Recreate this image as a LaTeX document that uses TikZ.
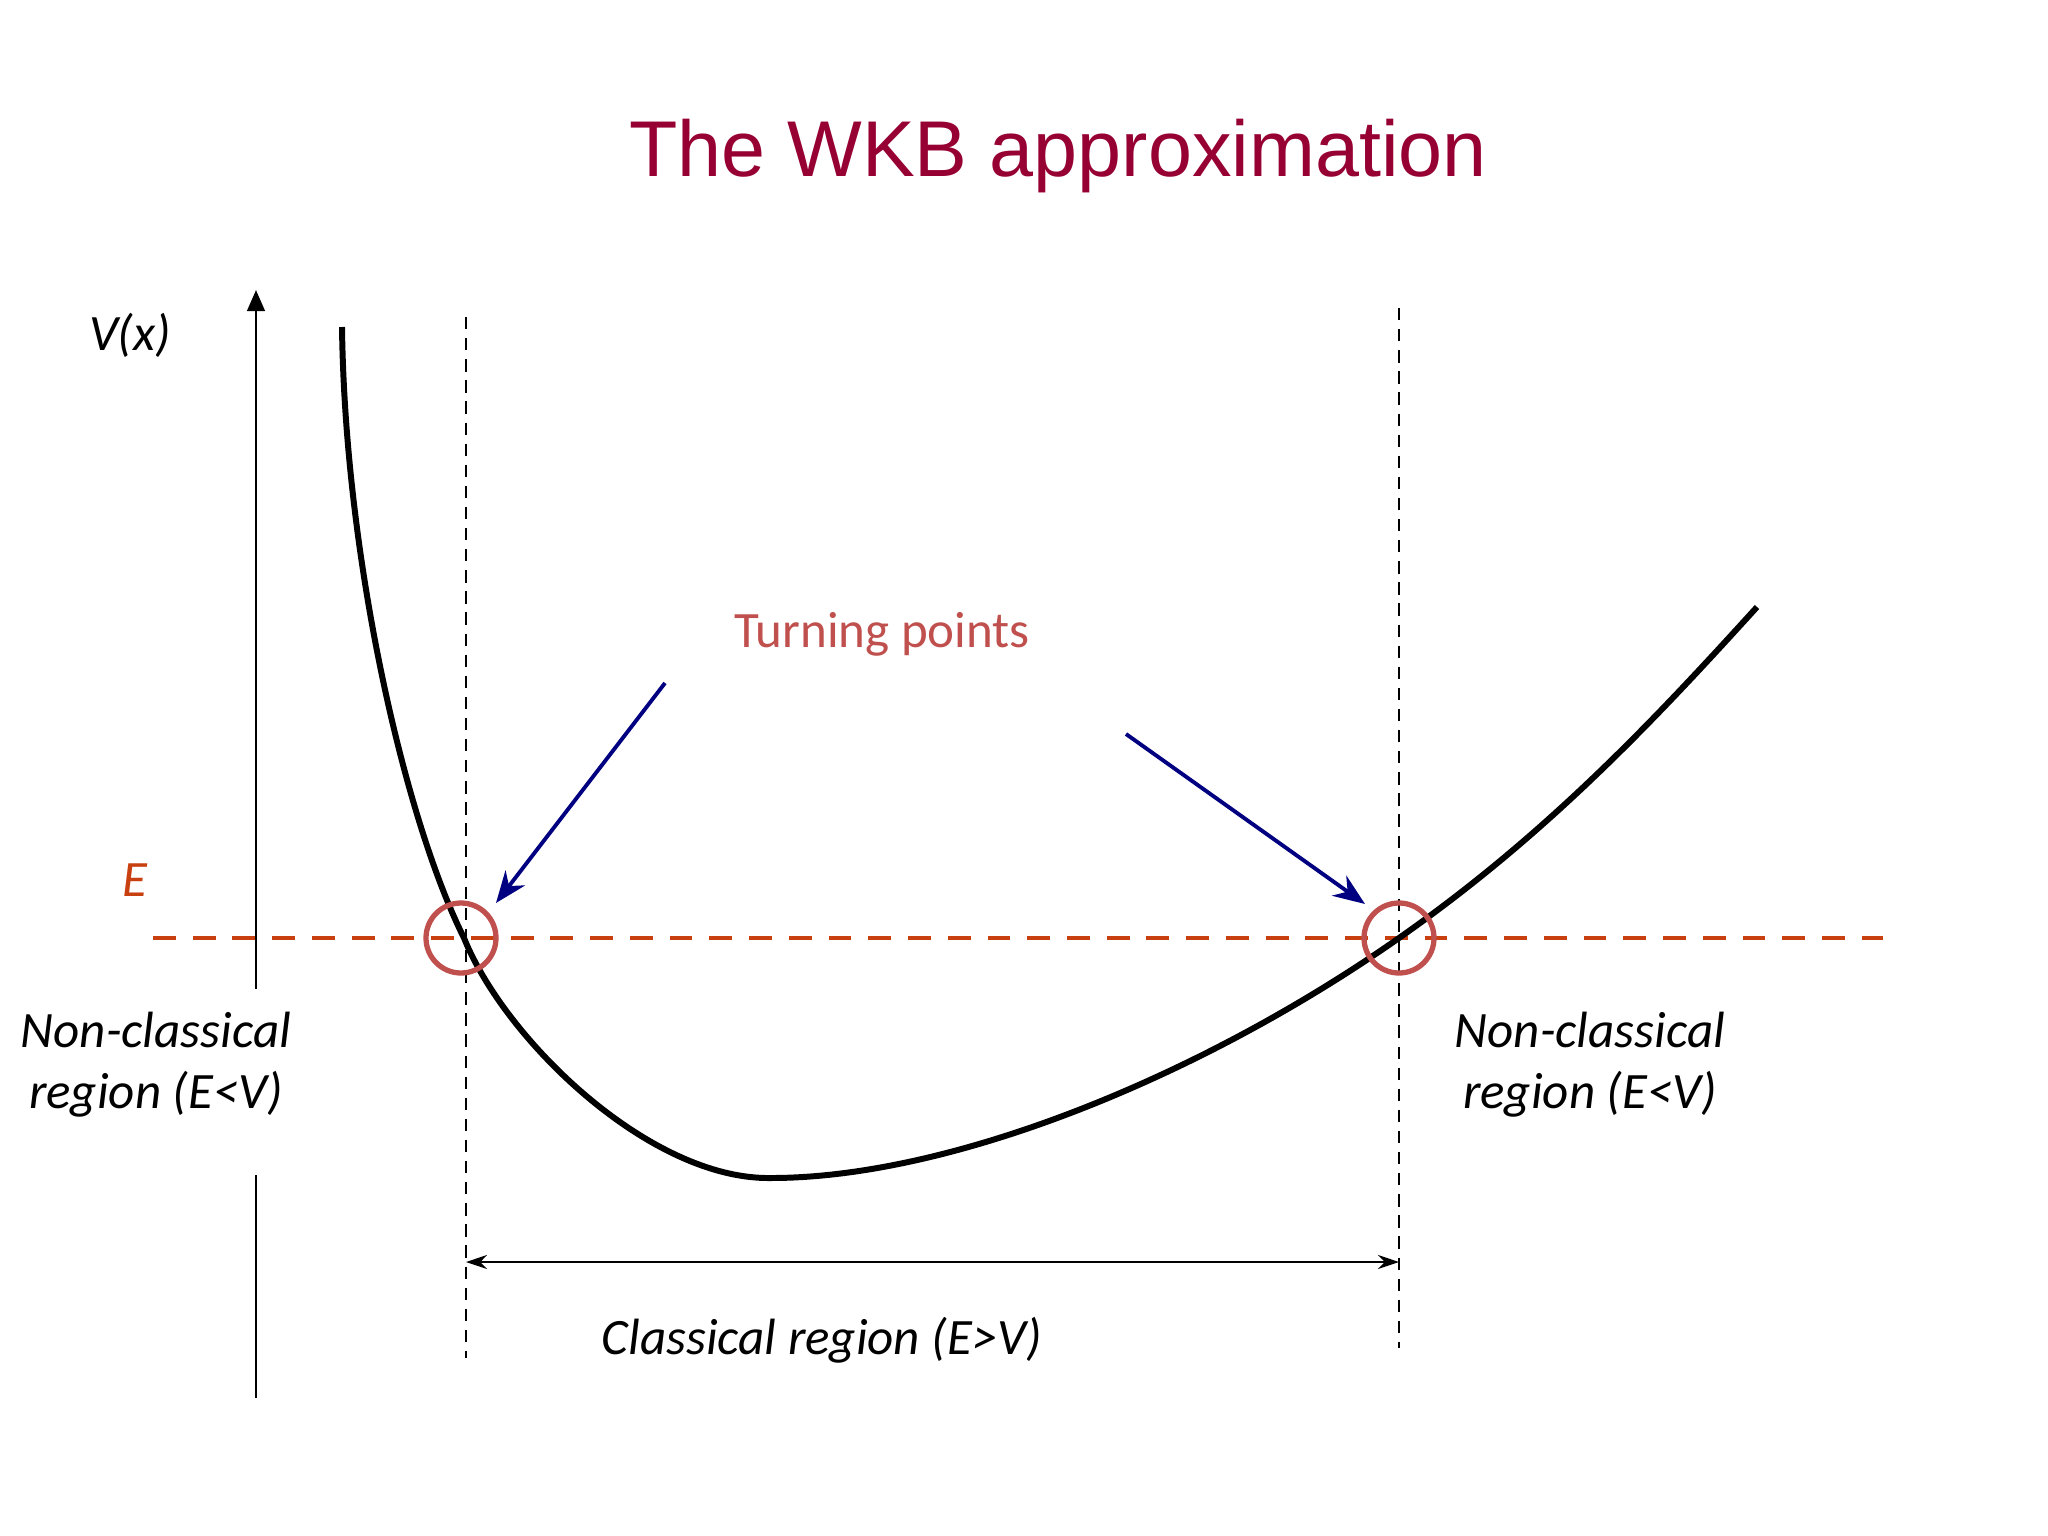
\documentclass[tikz,border=0pt]{standalone}
\usepackage{fontspec}
\setmainfont{Carlito}
\newfontfamily\titlefont{Liberation Sans}
\usetikzlibrary{arrows.meta}
\definecolor{titlered}{RGB}{150,0,50}
\definecolor{energy}{RGB}{200,64,16}
\definecolor{tpred}{RGB}{192,80,77}
\definecolor{navyblue}{RGB}{0,0,128}
\tikzset{
  lbl/.style={font=\fontsize{14.5}{17.4}\selectfont\itshape, inner sep=0pt, align=center},
  axisline/.style={line width=0.8pt, black},
  potential/.style={line width=1.7pt, black},
  energyline/.style={line width=1.4pt, energy, dash pattern=on 6.5pt off 4.8pt},
  turnline/.style={line width=0.6pt, black, dash pattern=on 3.5pt off 2.5pt},
  tpcircle/.style={circle, draw=tpred, line width=1.5pt, minimum size=70*0.01cm, inner sep=0pt},
  pointer/.style={line width=1.1pt, navyblue, -{Stealth[length=9pt, width=7pt]}},
  span/.style={line width=0.8pt, {Stealth[length=6pt,width=4pt]}-{Stealth[length=6pt,width=4pt]}}
}
\begin{document}
\begin{tikzpicture}[x=0.01cm, y=-0.01cm]
\useasboundingbox (0,0) rectangle (2048,1536);
% title
\node[font=\titlefont\fontsize{22.5}{27}\selectfont, text=titlered, anchor=base, inner sep=0pt] (title) at (1058,176) {The WKB approximation};
% axis
\coordinate (axbot) at (256,989);
\coordinate (axtop) at (256,290);
\draw[axisline, -{Triangle[length=6pt,width=5pt]}] (axbot) -- (axtop);
\coordinate (ax2a) at (256,1175);
\coordinate (ax2b) at (256,1398);
\draw[axisline] (ax2a) -- (ax2b);
\node[lbl, anchor=base] (vx) at (130,350) {V(x)};
% turning point verticals
\coordinate (lt) at (466,317);
\coordinate (lb) at (466,1358);
\coordinate (rt) at (1399,308);
\coordinate (rb) at (1399,1348);
\draw[turnline] (lt) -- (lb);
\draw[turnline] (rt) -- (rb);
% energy line
\coordinate (ea) at (153,938);
\coordinate (eb) at (1883,938);
\draw[energyline] (ea) -- (eb);
\node[lbl, text=energy, anchor=base] (elbl) at (135,896) {E};
% potential curve
\coordinate (c0) at (342,327);
\coordinate (c1) at (464,938);
\coordinate (c2) at (771,1178);
\coordinate (c3) at (1399,938);
\coordinate (c4) at (1757,607);
\draw[potential] (c0) .. controls (345,560) and (405,820) .. (c1)
  .. controls (505,1040) and (650,1180) .. (c2)
  .. controls (950,1178) and (1199,1078) .. (c3)
  .. controls (1549,833) and (1657,717) .. (c4);
% circles
\node[tpcircle] (lc) at (461,938) {};
\node[tpcircle] (rc) at (1399,938) {};
% turning points label and pointers
\node[font=\fontsize{14.5}{17.4}\selectfont, text=tpred, anchor=base, inner sep=0pt] (tp) at (882,647) {Turning points};
\coordinate (p1s) at (665,683);
\coordinate (p1e) at (496,903);
\coordinate (p2s) at (1126,734);
\coordinate (p2e) at (1365,904);
\draw[pointer] (p1s) -- (p1e);
\draw[pointer] (p2s) -- (p2e);
% classical region span
\coordinate (sa) at (466,1262);
\coordinate (sb) at (1399,1262);
\draw[span] (sa) -- (sb);
\node[lbl, anchor=base] (cl) at (822,1354) {Classical region (E>V)};
% non-classical labels
\node[lbl] (ncl) at (156,1065) {Non-classical\\region (E<V)};
\node[lbl] (ncr) at (1590,1065) {Non-classical\\region (E<V)};
\end{tikzpicture}
\end{document}
